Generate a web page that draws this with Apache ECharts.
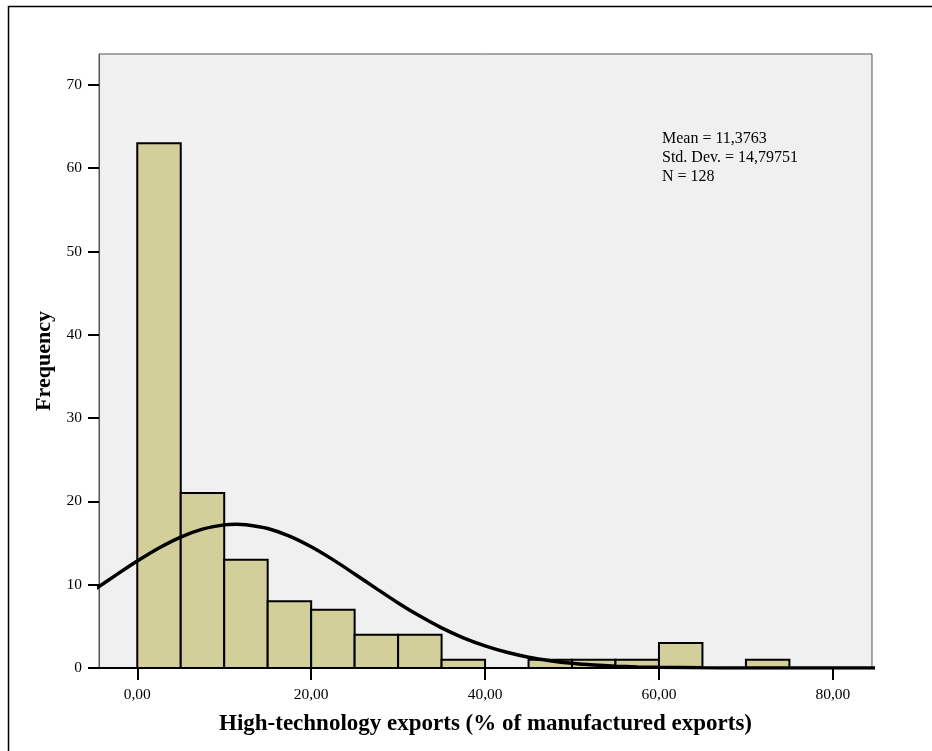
<!DOCTYPE html>
<html>
<head>
<meta charset="utf-8">
<script src="https://cdn.jsdelivr.net/npm/echarts@6/dist/echarts.min.js"></script>
<style>
html,body{margin:0;padding:0;background:#fff;}
#chart{width:932px;height:751px;}
</style>
</head>
<body>
<div id="chart"></div>
<script>
// Histogram bins (lower edge, upper edge) and frequencies
var binStarts = [0, 5, 10, 15, 20, 25, 30, 35, 40, 45, 50, 55, 60, 65, 70];
var binEnds   = [5, 10, 15, 20, 25, 30, 35, 40, 45, 50, 55, 60, 65, 70, 75];
var frequencies = [63, 21, 13, 8, 7, 4, 4, 1, 0, 1, 1, 1, 3, 0, 1];

// Fitted normal curve
var curveX = [-5, -2.5, 0, 2.5, 5, 7.5, 10, 11.4, 12.5, 15, 17.5, 20, 22.5, 25, 27.5, 30, 32.5, 35, 37.5, 40, 42.5, 45, 47.5, 50, 52.5, 55, 57.5, 60, 65, 70, 75, 80, 85];
var curveY = [9.35, 11.12, 12.84, 14.41, 15.72, 16.67, 17.18, 17.25, 17.20, 16.75, 15.84, 14.56, 13.01, 11.29, 9.53, 7.81, 6.23, 4.82, 3.63, 2.66, 1.89, 1.30, 0.88, 0.57, 0.36, 0.22, 0.13, 0.08, 0.02, 0.007, 0.002, 0.0003, 0.00005];

var xTicks = [0, 20, 40, 60, 80];
var yTicks = [0, 10, 20, 30, 40, 50, 60, 70];

var statsLines = ['Mean = 11,3763', 'Std. Dev. = 14,79751', 'N = 128'];
var xTitle = 'High-technology exports (% of manufactured exports)';
var yTitle = 'Frequency';

var barData = binStarts.map(function (s, i) { return [s, binEnds[i], frequencies[i]]; });
var curveData = curveX.map(function (x, i) { return [x, curveY[i]]; });

var serif = '"Liberation Serif", "Times New Roman", serif';
var chart = echarts.init(document.getElementById('chart'), null, {renderer: 'canvas'});

chart.setOption({
  animation: false,
  backgroundColor: '#ffffff',
  grid: {
    left: 99, top: 54, right: 60, bottom: 83,
    show: true, backgroundColor: '#f0f0f0', borderColor: '#555555', borderWidth: 1
  },
  xAxis: {
    type: 'value', min: -4.4, max: 84.5,
    splitLine: {show: false},
    axisLine: {show: true, onZero: false, lineStyle: {color: '#000', width: 2}},
    axisTick: {show: true, length: 12, lineStyle: {color: '#000', width: 2}, customValues: xTicks},
    axisLabel: {
      customValues: xTicks, margin: 19, color: '#000', fontFamily: serif, fontSize: 15.5,
      formatter: function (v) { return v.toFixed(2).replace('.', ','); }
    },
    name: xTitle, nameLocation: 'middle', nameGap: 45,
    nameTextStyle: {fontFamily: serif, fontSize: 23, fontWeight: 'bold', color: '#000'}
  },
  yAxis: {
    type: 'value', min: 0, max: 73.7,
    splitLine: {show: false},
    axisLine: {show: true, onZero: false, lineStyle: {color: '#555', width: 1}},
    axisTick: {show: true, length: 11, lineStyle: {color: '#000', width: 2}, customValues: yTicks},
    axisLabel: {customValues: yTicks, margin: 17, color: '#000', fontFamily: serif, fontSize: 15.5},
    name: yTitle, nameLocation: 'middle', nameGap: 43, nameRotate: 90,
    nameTextStyle: {fontFamily: serif, fontSize: 22, fontWeight: 'bold', color: '#000'}
  },
  series: [
    {
      type: 'custom',
      data: barData,
      encode: {x: [0, 1], y: 2},
      z: 2,
      renderItem: function (params, api) {
        var v = api.value(2);
        if (!v) return null;
        var p0 = api.coord([api.value(0), 0]);
        var p1 = api.coord([api.value(1), v]);
        return {
          type: 'rect',
          shape: {x: p0[0], y: p1[1], width: p1[0] - p0[0], height: p0[1] - p1[1]},
          style: {fill: '#d3cf9b', stroke: '#000', lineWidth: 2}
        };
      }
    },
    {
      type: 'line',
      data: curveData,
      smooth: 0.3,
      showSymbol: false,
      clip: true,
      z: 3,
      lineStyle: {color: '#000', width: 3.5}
    }
  ],
  graphic: [
    {
      type: 'rect', silent: true, z: 0,
      shape: {x: 8.5, y: 6.5, width: 940, height: 760},
      style: {fill: 'none', stroke: '#000', lineWidth: 1.5}
    },
    {
      type: 'text', left: 662, top: 129, z: 10,
      style: {
        text: statsLines.join('\n'), fontFamily: serif, fontSize: 16,
        lineHeight: 19, fill: '#000'
      }
    }
  ]
});
</script>
</body>
</html>
